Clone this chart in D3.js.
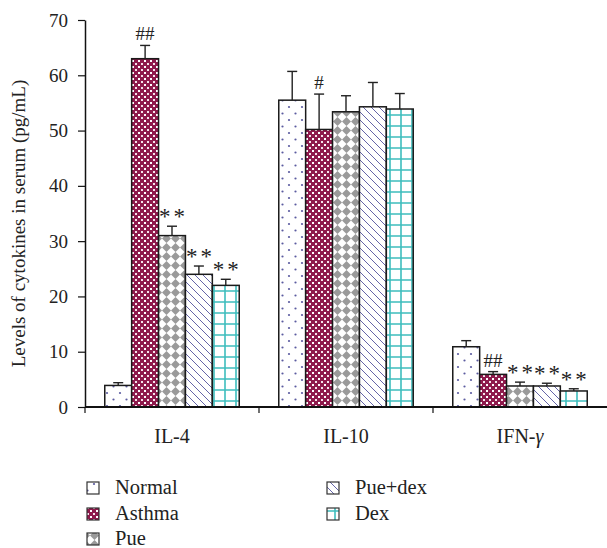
<!DOCTYPE html>
<html>
<head>
<meta charset="utf-8">
<script src="https://cdn.jsdelivr.net/npm/d3@7/dist/d3.min.js"></script>
<style>
  html, body { margin: 0; padding: 0; background: #fff; }
  svg { display: block; }
  svg text { font-family: "Liberation Serif", "Times New Roman", serif !important; fill: #222; }
</style>
</head>
<body>
<svg id="chart" width="607" height="548"></svg>
<script>
// Serum cytokine levels per group (pg/mL)
const categories = ["IL-4", "IL-10", "IFN-γ"];
const groups = ["Normal", "Asthma", "Pue", "Pue+dex", "Dex"];
const normalVals  = [3.9, 55.5, 10.9];
const asthmaVals  = [63.0, 50.2, 5.9];
const pueVals     = [31.0, 53.4, 3.8];
const pueDexVals  = [24.0, 54.3, 3.8];
const dexVals     = [22.0, 53.9, 2.9];
// standard deviations
const normalErr  = [0.5, 5.2, 1.1];
const asthmaErr  = [2.4, 6.4, 0.5];
const pueErr     = [1.7, 2.9, 0.7];
const pueDexErr  = [1.5, 4.4, 0.5];
const dexErr     = [1.1, 2.8, 0.4];
// significance marks
const normalSig  = ["", "", ""];
const asthmaSig  = ["##", "#", "##"];
const pueSig     = ["**", "", "**"];
const pueDexSig  = ["**", "", "**"];
const dexSig     = ["**", "", "**"];
const yTicks = [0, 10, 20, 30, 40, 50, 60, 70];

const values = [normalVals, asthmaVals, pueVals, pueDexVals, dexVals];
const errors = [normalErr, asthmaErr, pueErr, pueDexErr, dexErr];
const sigs = [normalSig, asthmaSig, pueSig, pueDexSig, dexSig];

const svg = d3.select("#chart");
const defs = svg.append("defs");

// ---- fill patterns ----
function pat(id, w, h) {
  return defs.append("pattern").attr("id", id).attr("patternUnits", "userSpaceOnUse")
    .attr("width", w).attr("height", h);
}
// Normal: sparse dots
{
  const p = pat("p-normal", 13, 13);
  p.append("rect").attr("width", 13).attr("height", 13).attr("fill", "#fff");
  p.append("circle").attr("cx", 3).attr("cy", 3).attr("r", 1.1).attr("fill", "#5b5ba0");
  p.append("circle").attr("cx", 9.5).attr("cy", 9.5).attr("r", 1.1).attr("fill", "#5b5ba0");
}
// Asthma: maroon with white lattice
{
  const p = pat("p-asthma", 6, 6);
  p.append("rect").attr("width", 6).attr("height", 6).attr("fill", "#8e1a4c");
  p.append("rect").attr("x", 0).attr("y", 0).attr("width", 2).attr("height", 2).attr("fill", "#fff");
  p.append("rect").attr("x", 3).attr("y", 3).attr("width", 2).attr("height", 2).attr("fill", "#f6e4ec");
}
// Pue: grey diamonds
{
  const p = pat("p-pue", 9, 9);
  p.append("rect").attr("width", 9).attr("height", 9).attr("fill", "#fff");
  p.append("path").attr("d", "M4.5,0 L9,4.5 L4.5,9 L0,4.5 Z").attr("fill", "#9a9a9a");
}
// Pue+dex: diagonal hatching
{
  const p = pat("p-puedex", 8, 8);
  p.append("rect").attr("width", 8).attr("height", 8).attr("fill", "#fff");
  p.append("path").attr("d", "M0,0 L8,8 M-4,4 L4,12 M4,-4 L12,4")
    .attr("stroke", "#6565a8").attr("stroke-width", 1);
}
// Dex: teal grid
{
  const p = pat("p-dex", 11, 11);
  p.append("rect").attr("width", 11).attr("height", 11).attr("fill", "#fff");
  p.append("path").attr("d", "M5,0 V11 M0,5 H11")
    .attr("stroke", "#3dbdbd").attr("stroke-width", 1.6);
}
const fills = ["url(#p-normal)", "url(#p-asthma)", "url(#p-pue)", "url(#p-puedex)", "url(#p-dex)"];

// ---- scales ----
const x0 = 85, xEnd = 607, yTop = 20, yBase = 407;
const x = d3.scaleBand().domain(categories).range([x0, xEnd]).padding(0);
const xs = d3.scaleBand().domain(groups).range([0, x.bandwidth()])
  .paddingInner(0).paddingOuter(0.735);
const y = d3.scaleLinear().domain([0, 70]).range([yBase, yTop]);

// ---- bars ----
const data = [];
categories.forEach((c, ci) => groups.forEach((g, gi) => {
  data.push({ c, g, gi, v: values[gi][ci], e: errors[gi][ci], s: sigs[gi][ci] });
}));

const barG = svg.append("g");
barG.selectAll("rect").data(data).join("rect")
  .attr("x", d => x(d.c) + xs(d.g))
  .attr("y", d => y(d.v))
  .attr("width", xs.bandwidth())
  .attr("height", d => yBase - y(d.v))
  .attr("fill", d => fills[d.gi])
  .attr("stroke", "#1a1a1a").attr("stroke-width", 1.5);

// ---- error bars (upper half) ----
const errG = svg.append("g").attr("stroke", "#222").attr("stroke-width", 1.4);
data.forEach(d => {
  const cx = x(d.c) + xs(d.g) + xs.bandwidth() / 2;
  errG.append("line").attr("x1", cx).attr("x2", cx).attr("y1", y(d.v)).attr("y2", y(d.v + d.e));
  errG.append("line").attr("x1", cx - 5).attr("x2", cx + 5).attr("y1", y(d.v + d.e)).attr("y2", y(d.v + d.e));
});

// ---- significance marks ----
const sigG = svg.append("g");
data.filter(d => d.s).forEach(d => {
  const cx = x(d.c) + xs(d.g) + xs.bandwidth() / 2;
  const top = y(d.v + d.e);
  if (d.s.startsWith("#")) {
    sigG.append("text").attr("x", cx).attr("y", top - 5).attr("text-anchor", "middle")
      .attr("font-size", 19).text(d.s);
  } else {
    sigG.append("text").attr("x", cx + 1.5).attr("y", top - 2).attr("text-anchor", "middle")
      .attr("font-size", 23).attr("letter-spacing", 3).text(d.s);
  }
});

// ---- axes ----
const yAxis = svg.append("g").attr("transform", `translate(${x0},0)`)
  .call(d3.axisLeft(y).tickValues(yTicks).tickSize(7).tickSizeOuter(0));
yAxis.select(".domain").attr("stroke", "#111").attr("stroke-width", 1.5);
yAxis.selectAll(".tick line").attr("stroke", "#111").attr("stroke-width", 1.2);
yAxis.selectAll(".tick text").attr("font-size", 19)
  .attr("fill", "#222").attr("x", -17);

const xAxis = svg.append("g").attr("transform", `translate(0,${yBase})`);
xAxis.append("line").attr("x1", x0).attr("x2", xEnd).attr("y1", 0).attr("y2", 0)
  .attr("stroke", "#111").attr("stroke-width", 2);
categories.forEach(c => {
  xAxis.append("line").attr("x1", x(c)).attr("x2", x(c)).attr("y1", 0).attr("y2", 6)
    .attr("stroke", "#111").attr("stroke-width", 1.2);
  const t = xAxis.append("text").attr("x", x(c) + x.bandwidth() / 2).attr("y", 36)
    .attr("text-anchor", "middle").attr("font-size", 20);
  // Greek letters are set in italics
  const m = c.match(/^(.*?)([α-ω]+)$/);
  if (m) {
    t.append("tspan").text(m[1]);
    t.append("tspan").attr("font-style", "italic").text(m[2]);
  } else {
    t.text(c);
  }
});

// y-axis title
svg.append("text")
  .attr("transform", `translate(25,${(yTop + yBase) / 2 + 10}) rotate(-90)`)
  .attr("text-anchor", "middle").attr("font-size", 19)
  .text("Levels of cytokines in serum (pg/mL)");

// ---- legend ----
const legendPos = [[87, 488], [87, 514], [87, 539], [327, 488], [327, 514]];
const lg = svg.append("g");
groups.forEach((g, i) => {
  const [lx, ly] = legendPos[i];
  lg.append("rect").attr("x", lx).attr("y", ly - 6).attr("width", 12).attr("height", 12)
    .attr("fill", fills[i]).attr("stroke", "#333").attr("stroke-width", 1.2);
  lg.append("text").attr("x", lx + 28).attr("y", ly + 6).attr("font-size", 20.5).text(g);
});
</script>
</body>
</html>
